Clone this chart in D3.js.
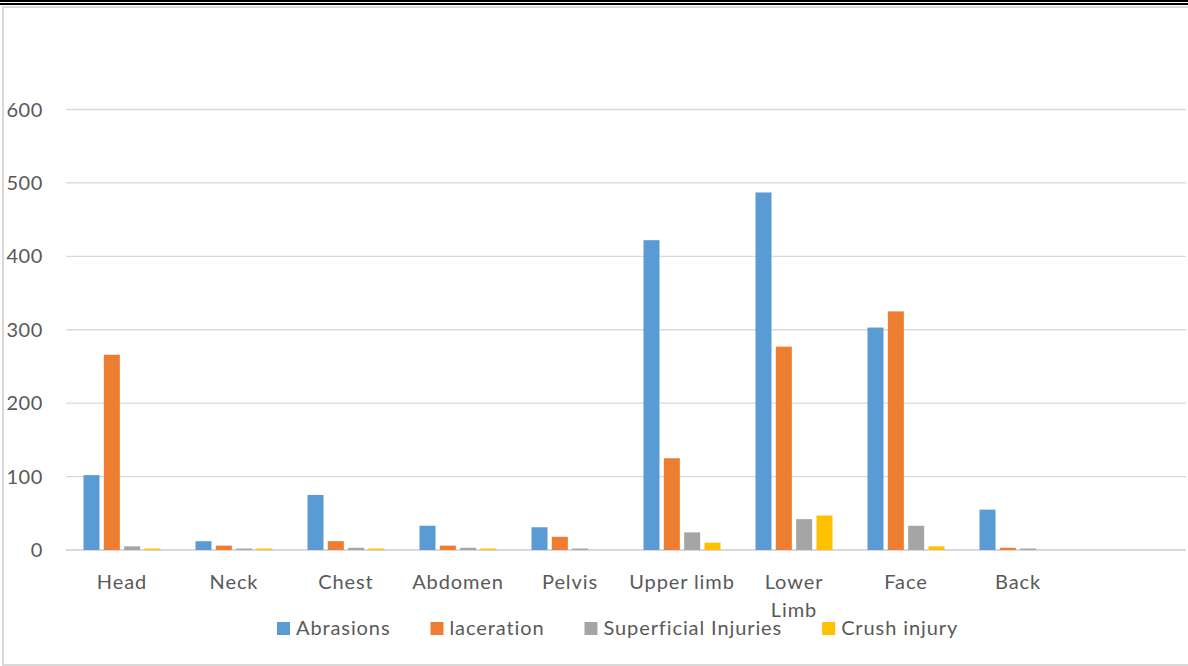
<!DOCTYPE html>
<html>
<head>
<meta charset="utf-8">
<script src="https://cdn.jsdelivr.net/npm/d3@7"></script>
<style>
  body { margin: 0; background: #fff; }
  svg { display: block; font-family: Lato, "Open Sans", sans-serif; }
</style>
</head>
<body>
<div id="chart"></div>
<script>
const categories = ["Head", "Neck", "Chest", "Abdomen", "Pelvis", "Upper limb", "Lower Limb", "Face", "Back"];
const seriesNames = ["Abrasions", "laceration", "Superficial Injuries", "Crush injury"];
const abrasions = [102, 12, 75, 33, 31, 422, 487, 303, 55];
const laceration = [266, 6, 12, 6, 18, 125, 277, 325, 3];
const superficial = [5, 2, 3, 3, 2, 24, 42, 33, 2];
const crush = [2, 2, 2, 2, 0, 10, 47, 5, 0];
const yTicks = [0, 100, 200, 300, 400, 500, 600];
const colors = ["#5b9bd5", "#ed7d31", "#a5a5a5", "#ffc000"];

const width = 1188;
const height = 666;

const svg = d3.select("#chart")
  .append("svg")
  .attr("width", width)
  .attr("height", height);

// frame: double black rule on top, gray box below it
svg.append("rect").attr("x", 0).attr("y", 0).attr("width", width).attr("height", 2).attr("fill", "#000");
svg.append("rect").attr("x", 0).attr("y", 3).attr("width", width).attr("height", 2).attr("fill", "#000");
svg.append("rect")
  .attr("x", 3).attr("y", 7)
  .attr("width", width + 10).attr("height", height - 8)
  .attr("fill", "none")
  .attr("stroke", "#d9d9d9")
  .attr("stroke-width", 2);

// the original leaves one empty slot at the right
const x = d3.scaleBand()
  .domain(categories.concat([""]))
  .range([66, 1186]);

const xInner = d3.scaleBand()
  .domain(seriesNames)
  .range([17.5, 94.5])
  .paddingInner(0.213);

const y = d3.scaleLinear().domain([0, 600]).range([550, 109.5]);

// gridlines
svg.append("g")
  .selectAll("line")
  .data(yTicks)
  .enter()
  .append("line")
  .attr("x1", 66)
  .attr("x2", 1186)
  .attr("y1", (d) => y(d))
  .attr("y2", (d) => y(d))
  .attr("stroke", "#d9d9d9")
  .attr("stroke-width", (d) => (d === 0 ? 2 : 1.4));

// y labels
svg.append("g")
  .selectAll("text")
  .data(yTicks)
  .enter()
  .append("text")
  .attr("x", 43)
  .attr("y", (d) => y(d))
  .attr("dy", "0.35em")
  .attr("text-anchor", "end")
  .attr("font-size", "20px")
  .attr("letter-spacing", "0.6px")
  .attr("fill", "#595959")
  .text((d) => d);

const series = [abrasions, laceration, superficial, crush];
const rows = [];
series.forEach((vals, si) => {
  vals.forEach((v, ci) => {
    rows.push({ cat: categories[ci], name: seriesNames[si], value: v, color: colors[si] });
  });
});

svg.append("g")
  .selectAll("rect")
  .data(rows.filter((d) => d.value > 0))
  .enter()
  .append("rect")
  .attr("x", (d) => x(d.cat) + xInner(d.name))
  .attr("width", xInner.bandwidth())
  .attr("y", (d) => y(d.value))
  .attr("height", (d) => y(0) - y(d.value))
  .attr("fill", (d) => d.color);

// category labels, wrapped when wider than the slot
const labels = svg.append("g")
  .selectAll("text")
  .data(categories)
  .enter()
  .append("text")
  .attr("x", (d) => x(d) + x.bandwidth() / 2)
  .attr("y", 589)
  .attr("text-anchor", "middle")
  .attr("font-size", "20px")
  .attr("letter-spacing", "0.9px")
  .attr("fill", "#595959")
  .text((d) => d);

labels.each(function (d) {
  const t = d3.select(this);
  if (this.getComputedTextLength() > 107 && d.indexOf(" ") > 0) {
    const words = d.split(" ");
    t.text(null);
    words.forEach((w, i) => {
      t.append("tspan")
        .attr("x", x(d) + x.bandwidth() / 2)
        .attr("dy", i === 0 ? 0 : 27.5)
        .text(w);
    });
  }
});

// legend
const legend = svg.append("g");
let lx = 277;
seriesNames.forEach((name, i) => {
  legend.append("rect")
    .attr("x", lx).attr("y", 622)
    .attr("width", 13).attr("height", 13)
    .attr("fill", colors[i]);
  const txt = legend.append("text")
    .attr("x", lx + 19)
    .attr("y", 635)
    .attr("font-size", "20px")
    .attr("letter-spacing", "0.9px")
    .attr("fill", "#595959")
    .text(name);
  lx += 19 + txt.node().getComputedTextLength() + 40;
});
</script>
</body>
</html>
